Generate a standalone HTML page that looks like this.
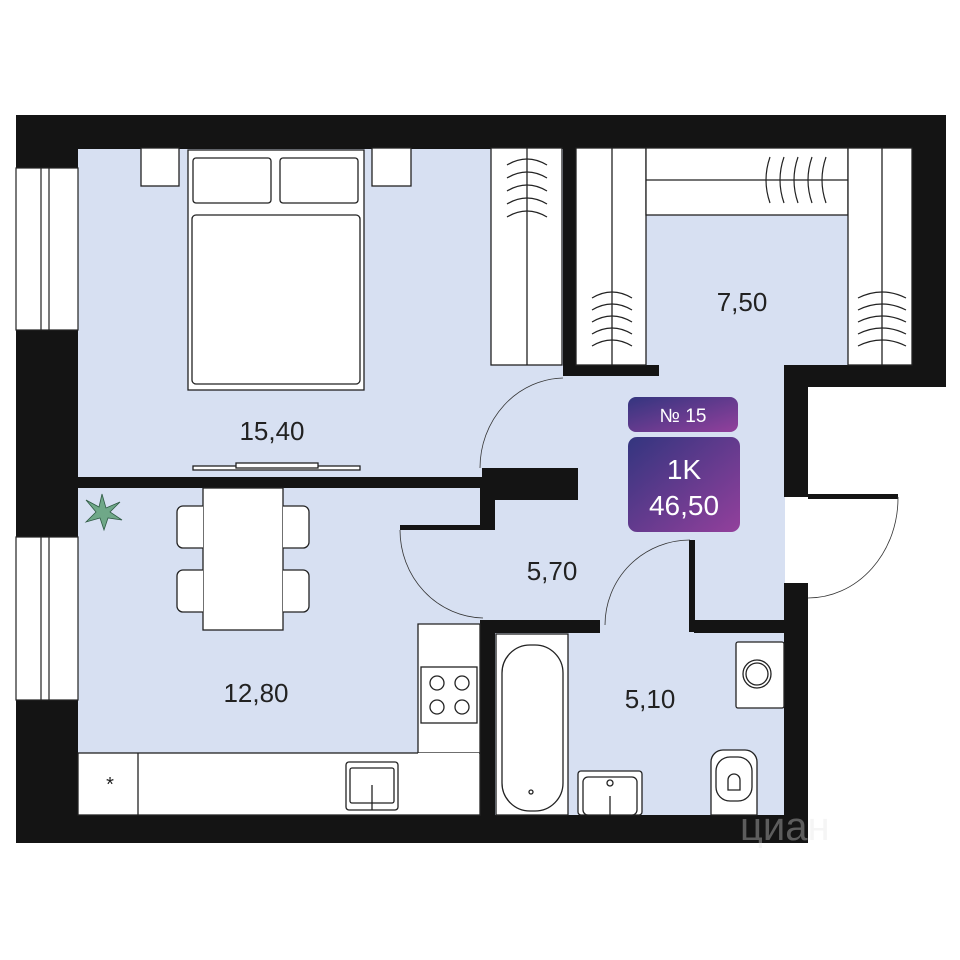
<!DOCTYPE html>
<html><head><meta charset="utf-8"><style>
html,body{margin:0;padding:0;background:#fff;}
svg{display:block}
text{font-family:"Liberation Sans",sans-serif;}
</style></head><body>
<svg width="960" height="960" viewBox="0 0 960 960" xmlns="http://www.w3.org/2000/svg">
<defs>
<linearGradient id="g" x1="0" y1="0" x2="1" y2="1">
<stop offset="0" stop-color="#33357f"/><stop offset="1" stop-color="#93409c"/>
</linearGradient>
</defs>
<rect width="960" height="960" fill="#fff"/>
<!-- floors -->
<g fill="#d7e0f2">
<rect x="78" y="148" width="486" height="330"/>
<rect x="576" y="148" width="336" height="220"/>
<rect x="576" y="148" width="208" height="480"/>
<rect x="480" y="370" width="305" height="262"/>
<rect x="78" y="488" width="404" height="330"/>
<rect x="494" y="630" width="292" height="186"/>
</g>
<!-- walls -->
<g fill="#141414">
<rect x="16" y="115" width="930" height="34"/>
<rect x="16" y="115" width="62" height="728"/>
<rect x="912" y="115" width="34" height="272"/>
<rect x="784" y="365" width="162" height="22"/>
<rect x="784" y="365" width="24" height="132"/>
<rect x="784" y="583" width="24" height="260"/>
<rect x="16" y="815" width="792" height="28"/>
<rect x="563" y="148" width="13" height="228"/>
<rect x="563" y="365" width="96" height="11"/>
<rect x="78" y="477" width="500" height="11"/>
<rect x="482" y="468" width="96" height="32"/>
<rect x="480" y="488" width="15" height="42"/>
<rect x="400" y="525" width="95" height="5"/>
<rect x="480" y="620" width="15" height="223"/>
<rect x="480" y="620" width="120" height="13"/>
<rect x="694" y="620" width="91" height="13"/>
<rect x="689" y="540" width="6" height="92"/>
<rect x="808" y="494" width="90" height="5"/>
</g>
<!-- windows -->
<g fill="#fff" stroke="#222" stroke-width="1.2">
<rect x="16" y="168" width="62" height="162"/>
<line x1="41" y1="168" x2="41" y2="330"/><line x1="49" y1="168" x2="49" y2="330"/>
<rect x="16" y="537" width="62" height="163"/>
<line x1="41" y1="537" x2="41" y2="700"/><line x1="49" y1="537" x2="49" y2="700"/>
</g>
<!-- door arcs -->
<g fill="none" stroke="#333" stroke-width="0.8">
<path d="M563 378 A85 90 0 0 0 480 468"/>
<path d="M400 530 A85 88 0 0 0 483 618"/>
<path d="M690 540 A85 85 0 0 0 605 625"/>
<path d="M898 497 A90 100 0 0 1 808 598"/>
</g>
<!-- furniture -->
<g fill="#fff" stroke="#222" stroke-width="1.3">
<rect x="141" y="148" width="38" height="38"/>
<rect x="372" y="148" width="39" height="38"/>
<rect x="188" y="150" width="176" height="240"/>
<rect x="193" y="158" width="78" height="45" rx="3"/>
<rect x="280" y="158" width="78" height="45" rx="3"/>
<rect x="192" y="215" width="168" height="169" rx="4"/>
<rect x="193" y="466" width="167" height="4"/>
<rect x="236" y="463" width="82" height="5"/>
<!-- closets -->
<rect x="491" y="148" width="71" height="217"/>
<line x1="527" y1="148" x2="527" y2="365"/>
<rect x="576" y="148" width="70" height="217"/>
<line x1="612" y1="148" x2="612" y2="365"/>
<rect x="646" y="148" width="202" height="67"/>
<line x1="646" y1="180" x2="848" y2="180"/>
<rect x="848" y="148" width="64" height="217"/>
<line x1="882" y1="148" x2="882" y2="365"/>
<!-- kitchen -->
<rect x="203" y="488" width="80" height="142"/>
<path d="M203 506 h-20 a6 6 0 0 0 -6 6 v30 a6 6 0 0 0 6 6 h20"/>
<path d="M203 570 h-20 a6 6 0 0 0 -6 6 v30 a6 6 0 0 0 6 6 h20"/>
<path d="M283 506 h20 a6 6 0 0 1 6 6 v30 a6 6 0 0 1 -6 6 h-20"/>
<path d="M283 570 h20 a6 6 0 0 1 6 6 v30 a6 6 0 0 1 -6 6 h-20"/>
<path d="M418 815 V624 H480 V815 Z"/>
<rect x="78" y="753" width="402" height="62"/>
<line x1="138" y1="753" x2="138" y2="815"/>
<rect x="418" y="753" width="61" height="61" stroke="none"/>
<rect x="421" y="667" width="56" height="56"/>
<circle cx="437" cy="683" r="7"/><circle cx="462" cy="683" r="7"/>
<circle cx="437" cy="707" r="7"/><circle cx="462" cy="707" r="7"/>
<rect x="346" y="762" width="52" height="48" rx="3"/>
<rect x="350" y="768" width="44" height="35" rx="2"/>
<line x1="372" y1="785" x2="372" y2="810"/>
<!-- bath -->
<rect x="496" y="634" width="72" height="181"/>
<rect x="502" y="645" width="61" height="166" rx="28"/>
<circle cx="531" cy="792" r="2"/>
<rect x="578" y="771" width="64" height="44" rx="3"/>
<rect x="583" y="777" width="54" height="38" rx="5"/>
<circle cx="610" cy="783" r="3"/>
<line x1="610" y1="796" x2="610" y2="815"/>
<rect x="736" y="642" width="48" height="66" rx="2"/>
<circle cx="757" cy="674" r="14"/><circle cx="757" cy="674" r="11"/>
<path d="M711 815 V762 a12 12 0 0 1 12 -12 h22 a12 12 0 0 1 12 12 V815 Z"/>
<rect x="716" y="757" width="36" height="44" rx="14"/>
<path d="M728 790 v-10 a6 6 0 0 1 12 0 v10 Z"/>
</g>
<text x="110" y="791" font-size="20" fill="#222" text-anchor="middle">*</text>
<!-- hangers -->
<g fill="none" stroke="#222" stroke-width="1.2">
<path d="M507 165 q20 -12 40 0 M507 178 q20 -12 40 0 M507 191 q20 -12 40 0 M507 204 q20 -12 40 0 M507 217 q20 -12 40 0"/>
<path d="M592 298 q20 -12 40 0 M592 310 q20 -12 40 0 M592 322 q20 -12 40 0 M592 334 q20 -12 40 0 M592 346 q20 -12 40 0"/>
<path d="M858 298 q24 -12 48 0 M858 310 q24 -12 48 0 M858 322 q24 -12 48 0 M858 334 q24 -12 48 0 M858 346 q24 -12 48 0"/>
<path d="M770 157 q-8 23 0 46 M784 157 q-8 23 0 46 M798 157 q-8 23 0 46 M812 157 q-8 23 0 46 M826 157 q-8 23 0 46"/>
</g>
<!-- plant -->
<g fill="#6fa888" stroke="#2f5a44" stroke-width="0.8">
<path d="M102 494 L106 508 L120 502 L110 512 L122 520 L108 518 L104 530 L100 518 L86 522 L96 512 L86 500 L99 507 Z"/>
</g>
<!-- badges -->
<rect x="628" y="397" width="110" height="35" rx="8" fill="url(#g)"/>
<text x="683" y="422" font-size="19" fill="#fff" text-anchor="middle">№ 15</text>
<rect x="628" y="437" width="112" height="95" rx="9" fill="url(#g)"/>
<text x="684" y="479" font-size="28" fill="#fff" text-anchor="middle">1K</text>
<text x="684" y="515" font-size="28" fill="#fff" text-anchor="middle">46,50</text>
<!-- labels -->
<g font-size="26" fill="#222" text-anchor="middle">
<text x="272" y="440">15,40</text>
<text x="742" y="311">7,50</text>
<text x="552" y="580">5,70</text>
<text x="256" y="702">12,80</text>
<text x="650" y="708">5,10</text>
</g>
<text x="740" y="840" font-size="40" fill="#e4e4e4" opacity="0.35">циан</text>
</svg>
</body></html>
